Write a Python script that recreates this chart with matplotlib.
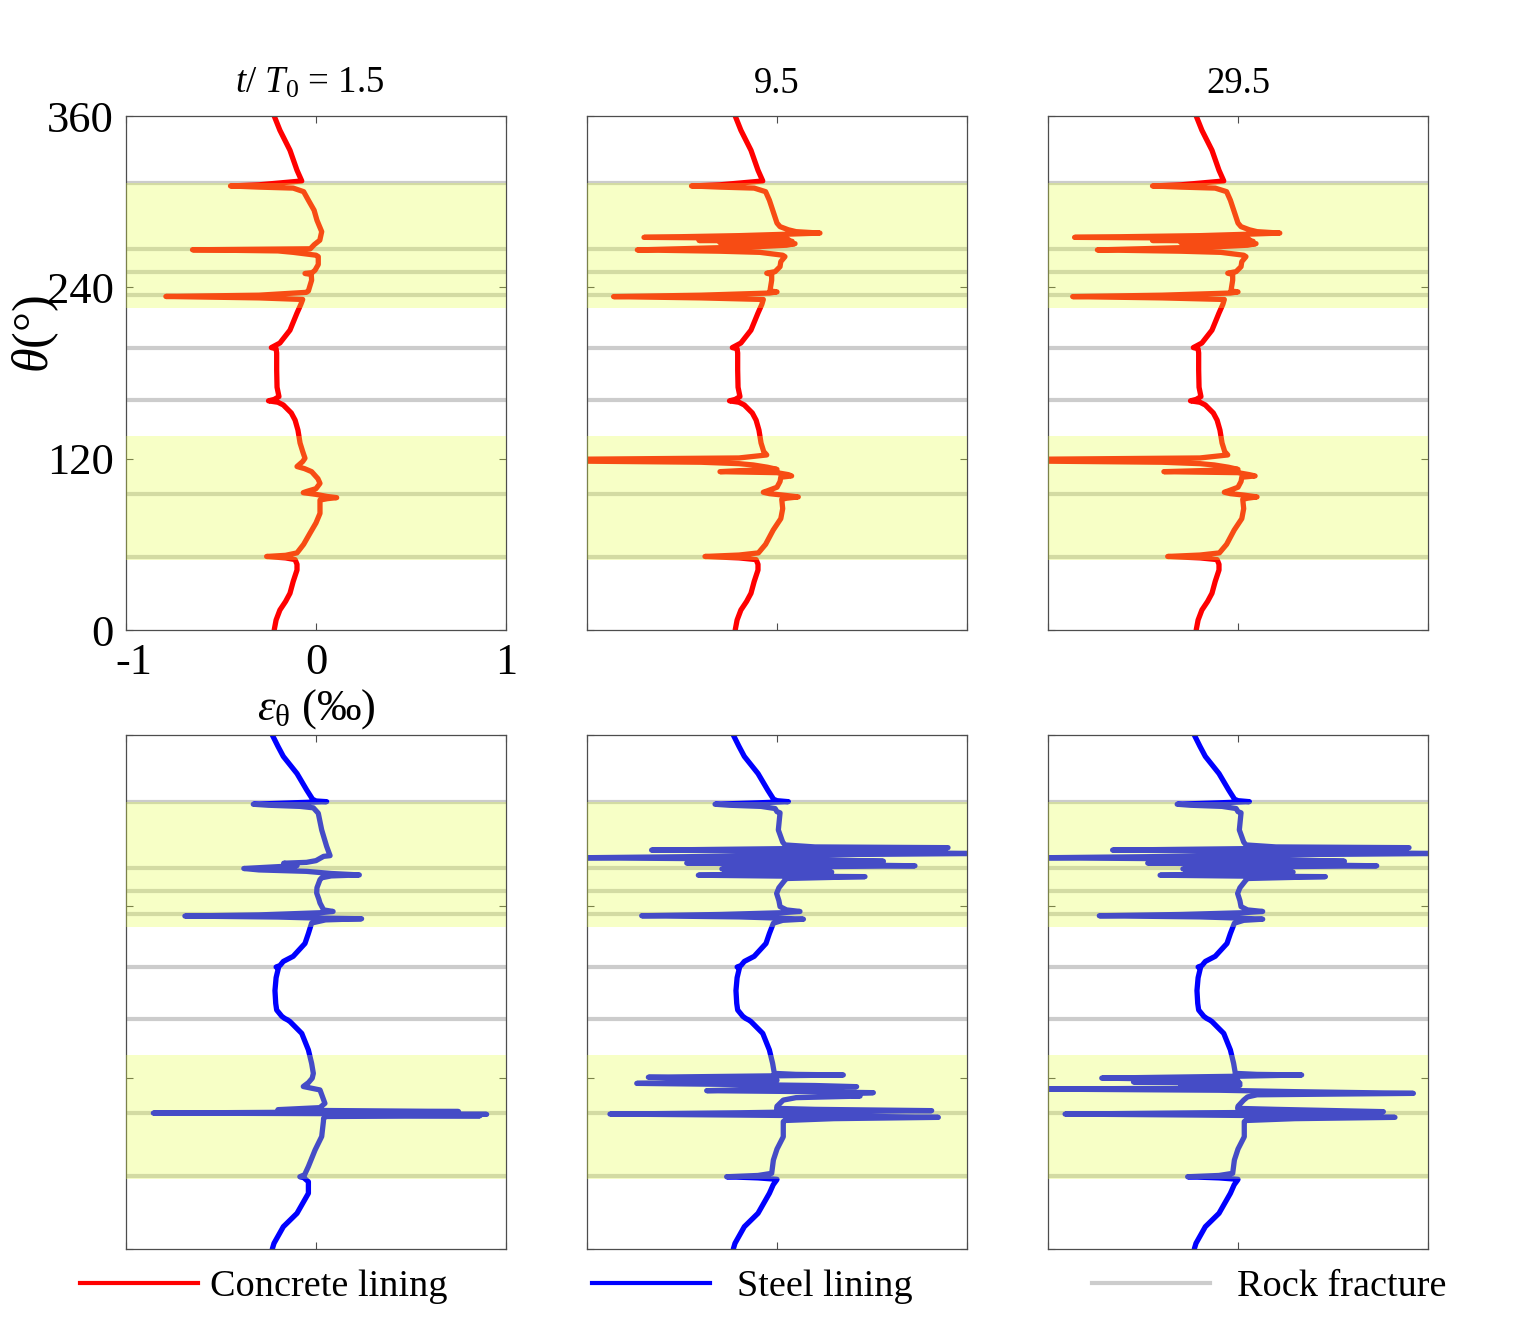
import numpy as np
import matplotlib.pyplot as plt
from matplotlib.lines import Line2D
from matplotlib.transforms import ScaledTranslation

plt.rcParams['font.family'] = ['Liberation Serif', 'DejaVu Serif']
plt.rcParams['mathtext.fontset'] = 'custom'
plt.rcParams['mathtext.rm'] = 'Liberation Serif'
plt.rcParams['mathtext.it'] = 'Liberation Serif:italic'

# time steps (t/T0)
times = ['1.5', '9.5', '29.5']

# rock fractures and weak zones (theta in degrees)
fractures = [313, 266.5, 250.5, 234.5, 197.5, 161, 95.5, 51]
zones = [(49, 136), (225.5, 313)]

# ---- concrete lining hoop strain, (theta, eps) pairs, top -> bottom ----
conc_top = [(360, -0.22), (350, -0.19), (336, -0.137), (322, -0.10), (314.5, -0.075)]
conc_upper_15 = [(311.8, -0.30), (311, -0.45), (310.2, -0.30), (309.5, -0.12), (307, -0.065),
                 (301, -0.04), (294, -0.01), (287, 0.005), (279, 0.03), (273, 0.02),
                 (269.8, -0.01), (267, -0.03), (266.3, -0.65), (265.5, -0.2), (264.5, -0.12),
                 (262.5, 0.0), (261.5, 0.012), (256, 0.012), (252, -0.005), (250.3, -0.02),
                 (249.7, -0.058), (249, -0.025), (245, -0.023), (237.5, -0.04), (236.5, -0.05),
                 (234.5, -0.3), (233.6, -0.79), (232.6, -0.3), (231.5, -0.07)]
conc_upper_95 = [(311.8, -0.30), (311, -0.45), (310.2, -0.30), (309.5, -0.12), (307, -0.06),
                 (301, -0.04), (293, -0.02), (285, 0.0), (282.5, 0.016), (280.3, 0.06),
                 (279, 0.10), (278, 0.226), (277.2, 0.05), (276.2, -0.2), (275, -0.70),
                 (274.3, 0.0), (273.5, 0.06), (272.8, -0.41), (272.2, 0.08), (271.3, -0.3),
                 (270.6, 0.095), (269.5, 0.05), (268.5, -0.1), (266.2, -0.735), (265.3, -0.3),
                 (264.5, -0.09), (262.5, 0.03), (261.5, 0.042), (258, 0.02), (254.5, 0.016),
                 (251, -0.01), (249.9, -0.054), (249, -0.028), (245, -0.028), (237.5, -0.037),
                 (236.8, 0.0), (236, -0.04), (234.5, -0.4), (233.5, -0.86), (232.6, -0.4),
                 (231.5, -0.072)]
conc_upper_295 = [(311.8, -0.30), (311, -0.45), (310.2, -0.30), (309.5, -0.12), (307, -0.06),
                  (301, -0.04), (293, -0.02), (285, 0.0), (282.5, 0.016), (280.3, 0.06),
                  (279, 0.10), (278, 0.22), (277.2, 0.05), (276.2, -0.2), (275, -0.86),
                  (274.3, 0.0), (273.5, 0.06), (272.8, -0.45), (272.2, 0.08), (271.3, -0.3),
                  (270.6, 0.095), (269.5, 0.05), (268.5, -0.1), (266.2, -0.74), (265.3, -0.3),
                  (264.5, -0.09), (262.5, 0.03), (261.5, 0.042), (258, 0.02), (254.5, 0.016),
                  (251, -0.01), (249.9, -0.054), (249, -0.028), (245, -0.028), (237.5, -0.037),
                  (236.8, 0.0), (236, -0.04), (234.5, -0.4), (233.5, -0.87), (232.6, -0.4),
                  (231.5, -0.072)]
conc_mid = [(228, -0.08), (222, -0.10), (210, -0.137), (201, -0.19), (198.5, -0.225),
            (197.8, -0.235), (197, -0.21), (194, -0.207), (182, -0.207), (170, -0.205),
            (163.5, -0.195), (161.5, -0.22), (160.5, -0.25), (159.5, -0.20), (157.6, -0.172),
            (152, -0.13), (147, -0.11), (140, -0.095), (131, -0.084), (125, -0.07)]
conc_lower_15 = [(120.3, -0.058), (118, -0.07), (114.5, -0.10), (113, -0.06), (110.9, -0.023),
                 (106, 0.01), (102.7, 0.021), (99, 0.0), (97, -0.05), (96.2, -0.067),
                 (95, 0.0), (93.5, 0.06), (92.7, 0.109), (92, 0.06), (91, 0.021),
                 (81.7, 0.021), (75, 0.0), (67.7, -0.032), (60, -0.065), (54, -0.10),
                 (52.3, -0.16), (51.5, -0.26), (50.5, -0.16), (49.3, -0.11)]
conc_lower_95 = [(122.6, -0.054), (120.5, -0.2), (119.6, -1.05), (118.3, -1.05), (117.5, -0.4),
                 (116.5, -0.2), (115.6, -0.125), (114, -0.05), (112.5, 0.0), (111.6, -0.2),
                 (110.9, -0.30), (110.2, 0.0), (108.8, 0.06), (107.9, 0.077), (107, 0.02),
                 (104, 0.016), (100, 0.0), (97.5, -0.05), (96.5, -0.072), (95.5, -0.04),
                 (94.5, 0.03), (93.2, 0.112), (92.3, 0.05), (91.5, 0.025), (85, 0.03),
                 (78, 0.02), (70, -0.02), (60, -0.06), (54, -0.098), (52.5, -0.2),
                 (51.5, -0.379), (50.5, -0.2), (49.3, -0.11)]
conc_lower_295 = [(122.6, -0.054), (120.5, -0.2), (119.6, -1.05), (118.3, -1.05), (117.5, -0.4),
                  (116.5, -0.2), (115.6, -0.125), (114, -0.05), (112.5, 0.0), (111.6, -0.2),
                  (110.9, -0.39), (110.2, 0.0), (108.8, 0.06), (107.9, 0.09), (107, 0.02),
                  (104, 0.016), (100, 0.0), (97.5, -0.05), (96.5, -0.072), (95.5, -0.04),
                  (94.5, 0.03), (93.2, 0.10), (92.3, 0.05), (91.5, 0.025), (85, 0.03),
                  (78, 0.02), (70, -0.02), (60, -0.06), (54, -0.098), (52.5, -0.2),
                  (51.5, -0.37), (50.5, -0.2), (49.3, -0.11)]
conc_bot = [(46, -0.10), (42, -0.10), (34, -0.12), (25.7, -0.137), (20, -0.16), (14, -0.19),
            (7, -0.21), (0, -0.22)]

# ---- steel lining hoop strain ----
steel_top = [(360, -0.23), (352, -0.20), (345, -0.172), (333, -0.10), (321.5, -0.049),
             (315, -0.018)]
steel_upper_15 = [(313.8, 0.0), (313.3, 0.056), (312.6, -0.1), (311.5, -0.33), (310.8, -0.25),
                  (310, -0.084), (309, -0.014), (305.2, 0.012), (293.5, 0.03), (282, 0.056),
                  (275.5, 0.074), (275, 0.04), (272, 0.0), (270.8, -0.05), (270.2, -0.17),
                  (268.5, -0.1), (266.5, -0.38), (265.5, -0.3), (264.5, -0.05), (263, 0.08),
                  (262, 0.228), (261.3, 0.08), (260, 0.03), (258.7, 0.021), (253, 0.005),
                  (249.3, 0.0035), (245, 0.015), (242.3, 0.021), (237.5, 0.04), (236.4, 0.09),
                  (235.5, 0.02), (234, -0.3), (233.2, -0.69), (232.5, -0.2), (231.8, 0.0),
                  (231.3, 0.24), (230.5, 0.05), (228.3, -0.023)]
steel_upper_95 = [(314, 0.0), (313.3, 0.06), (312.5, -0.1), (311.5, -0.326), (310.8, -0.25),
                  (310, -0.084), (308.5, -0.01), (306.3, 0.0), (305.5, 0.016), (293.5, 0.007),
                  (285, 0.03), (283, 0.042), (281.6, 0.2), (281.1, 0.90), (280.5, 0.1),
                  (279.4, -0.66), (278.6, 0.0), (277.6, 0.6), (277, 1.05), (276.2, 0.3),
                  (275, -0.3), (274, -1.05), (273.2, -0.2), (272.4, 0.3), (271.6, 0.56),
                  (271, 0.0), (270.3, -0.475), (269.5, 0.1), (268.4, 0.726), (267.5, 0.0),
                  (266.2, -0.29), (265.3, 0.05), (264, 0.288), (263, 0.05), (261.8, -0.414),
                  (261.2, 0.0), (260.8, 0.463), (259.5, 0.05), (258.4, 0.042), (253, 0.01),
                  (249, -0.002), (244, 0.01), (239.8, 0.016), (237.5, 0.05), (236.4, 0.121),
                  (235.5, 0.02), (234.3, -0.3), (233.4, -0.712), (232.6, -0.2), (231.8, 0.0),
                  (231, 0.139), (230.2, 0.03), (228.2, -0.019)]
steel_upper_295 = [(314, 0.0), (313.3, 0.06), (312.5, -0.1), (311.5, -0.32), (310.8, -0.25),
                   (310, -0.084), (308.5, -0.01), (306.3, 0.0), (305.5, 0.016), (293.5, 0.007),
                   (285, 0.03), (283, 0.042), (281.6, 0.2), (281.1, 0.90), (280.5, 0.1),
                   (279.4, -0.66), (278.6, 0.0), (277.6, 0.6), (277, 1.05), (276.2, 0.3),
                   (275, -0.3), (274, -1.05), (273.2, -0.2), (272.4, 0.3), (271.6, 0.56),
                   (271, 0.0), (270.3, -0.475), (269.5, 0.1), (268.4, 0.73), (267.5, 0.0),
                   (266.2, -0.29), (265.3, 0.05), (264, 0.29), (263, 0.05), (261.8, -0.41),
                   (261.2, 0.0), (260.8, 0.46), (259.5, 0.05), (258.4, 0.042), (253, 0.01),
                   (249, -0.002), (244, 0.01), (239.8, 0.016), (237.5, 0.05), (236.4, 0.13),
                   (235.5, 0.02), (234.3, -0.3), (233.4, -0.73), (232.6, -0.2), (231.8, 0.0),
                   (231, 0.13), (230.2, 0.03), (228.2, -0.019)]
steel_mid = [(221, -0.04), (214, -0.058), (205, -0.12), (201.4, -0.172), (198.5, -0.19),
             (197.5, -0.21), (196.7, -0.198), (190, -0.21), (181, -0.216), (172, -0.212),
             (167.4, -0.207), (163, -0.18), (161.5, -0.165), (160.5, -0.15), (159.3, -0.137),
             (151, -0.075), (139.4, -0.04), (130, -0.023), (123, -0.014)]
steel_lower_15 = [(119.6, -0.02), (116.5, -0.04), (113.8, -0.067), (111.4, 0.021), (102, 0.047),
                  (99, 0.02), (97.6, -0.2), (97, 0.05), (96.3, 0.75), (95.8, -0.1),
                  (95.2, -0.856), (94.7, 0.3), (94.3, 0.898), (93.8, 0.2), (93.3, 0.863),
                  (92.8, 0.05), (91.5, 0.04), (89.3, 0.039), (78.8, 0.03), (69.3, -0.005),
                  (57.8, -0.04), (52, -0.06), (50.6, -0.085), (50, -0.065), (47.1, -0.04)]
steel_lower_95 = [(122.3, 0.1), (121.9, 0.349), (121.3, 0.0), (120.3, -0.677), (119.3, -0.3),
                  (118.2, 0.0), (117, -0.3), (116, -0.738), (115.2, -0.2), (114.5, 0.2),
                  (113.7, 0.419), (112.8, 0.1), (111.5, -0.2), (110.9, -0.37), (110.3, 0.1),
                  (109.5, 0.507), (108.5, 0.3), (107.1, 0.437), (106, 0.1), (104.3, 0.033),
                  (100, 0.0), (98.5, -0.002), (97.8, 0.2), (96.9, 0.814), (96.2, 0.2),
                  (95.4, -0.2), (94.5, -0.879), (93.8, -0.2), (93.2, 0.3), (92.2, 0.849),
                  (91.3, 0.3), (90, 0.04), (89.2, 0.033), (78.6, 0.033), (70, 0.0),
                  (62.3, -0.019), (53, -0.028), (51.5, -0.1), (50.6, -0.265), (49.8, -0.1),
                  (48.8, 0.0), (48.3, -0.002), (45, -0.02)]
steel_lower_295 = [(122.3, 0.1), (121.9, 0.335), (121, 0.0), (119.7, -0.717), (118.8, -0.3),
                   (117.8, 0.0), (117, -0.55), (116.2, 0.01), (115.2, -0.3), (114.6, 0.01),
                   (113.5, -0.3), (112.8, -0.05), (112, -1.05), (111.2, -0.1), (110.2, 0.3),
                   (109, 0.923), (108, 0.1), (106.5, 0.05), (104.3, 0.03), (100, 0.0),
                   (98.5, -0.002), (97.8, 0.2), (96.2, 0.765), (95.4, -0.2), (94.5, -0.91),
                   (93.8, -0.2), (93.2, 0.3), (92.2, 0.826), (91.3, 0.3), (90, 0.04),
                   (89.2, 0.033), (78.6, 0.033), (70, 0.0), (62.3, -0.019), (53, -0.028),
                   (51.5, -0.1), (50.6, -0.265), (49.8, -0.1), (48.8, 0.0), (48.3, -0.002),
                   (45, -0.02)]
steel_bot = [(39, -0.04), (25, -0.10), (15.6, -0.172), (4, -0.221), (0, -0.23)]

concrete = [conc_top + conc_upper_15 + conc_mid + conc_lower_15 + conc_bot,
            conc_top + conc_upper_95 + conc_mid + conc_lower_95 + conc_bot,
            conc_top + conc_upper_295 + conc_mid + conc_lower_295 + conc_bot]
steel = [steel_top + steel_upper_15 + steel_mid + steel_lower_15 + steel_bot,
         steel_top + steel_upper_95 + steel_mid + steel_lower_95 + steel_bot,
         steel_top + steel_upper_295 + steel_mid + steel_lower_295 + steel_bot]

W, H = 1525, 1325
fig = plt.figure(figsize=(W / 100, H / 100), dpi=100)

lefts = [126, 587, 1048]
bottoms = [630, 1249]
zone_color = (0.9, 1.0, 0.27)

for r, (series, col) in enumerate([(concrete, 'red'), (steel, 'blue')]):
    for c in range(3):
        ax = fig.add_axes([lefts[c] / W, 1 - bottoms[r] / H, 380 / W, 514 / H])
        for th in fractures:
            ax.axhline(th, color='0.8', lw=3, zorder=1)
        pts = np.array(series[c])
        ax.plot(pts[:, 1], pts[:, 0], color=col, lw=3.8, zorder=2,
                solid_joinstyle='round', solid_capstyle='round')
        for lo, hi in zones:
            ax.axhspan(lo, hi, color=zone_color, alpha=0.3, lw=0, zorder=3)
        ax.set_xlim(-1, 1)
        ax.set_ylim(0, 360)
        ax.set_xticks([-1, 0, 1])
        ax.set_yticks([0, 120, 240, 360])
        ax.tick_params(direction='in', top=True, right=True, length=5, width=0.8,
                       color='0.3', labelsize=32, pad=9)
        for sp in ax.spines.values():
            sp.set_color('0.3')
            sp.set_linewidth(0.9)
        if r == 0 and c == 0:
            ax.set_xticklabels(['-1', '0', '1'])
            # nudge "-1" to the right a little, like the original
            lab = ax.get_xticklabels()[0]
            lab.set_transform(lab.get_transform() +
                              ScaledTranslation(8 / 100, 0, fig.dpi_scale_trans))
            ax.set_xlabel(r'$\varepsilon_{\mathrm{\theta}}$ (‰)', fontsize=32)
            ax.xaxis.set_label_coords(0.5, -0.11)
            ax.set_ylabel(r'$\theta$(°)', fontsize=36)
            ax.yaxis.set_label_coords(-0.17, 0.575)
        else:
            ax.set_xticklabels([])
            ax.set_yticklabels([])
        if r == 0:
            if c == 0:
                title = r'$t$/ $T_{\mathrm{0}}$ = ' + times[c]
                ax.text(0.484, 1.045, title, transform=ax.transAxes, ha='center',
                        va='baseline', fontsize=26.5)
            else:
                ax.text(0.5, 1.045, times[c], transform=ax.transAxes, ha='center',
                        va='baseline', fontsize=26.5)

# legend row
entries = [('red', 'Concrete lining', 80, 0.3), ('blue', 'Steel lining', 592, 0.7),
           ('0.8', 'Rock fracture', 1092, 0.7)]
for col, lab, x0, gap in entries:
    fig.legend(handles=[Line2D([], [], color=col, lw=3)], labels=[lab],
               loc='center left', bbox_to_anchor=(x0 / W, 1 - 1287 / H),
               frameon=False, fontsize=27.5, handlelength=3.1, handletextpad=gap,
               borderpad=0, borderaxespad=0)

fig.savefig('out.png', dpi=100)
